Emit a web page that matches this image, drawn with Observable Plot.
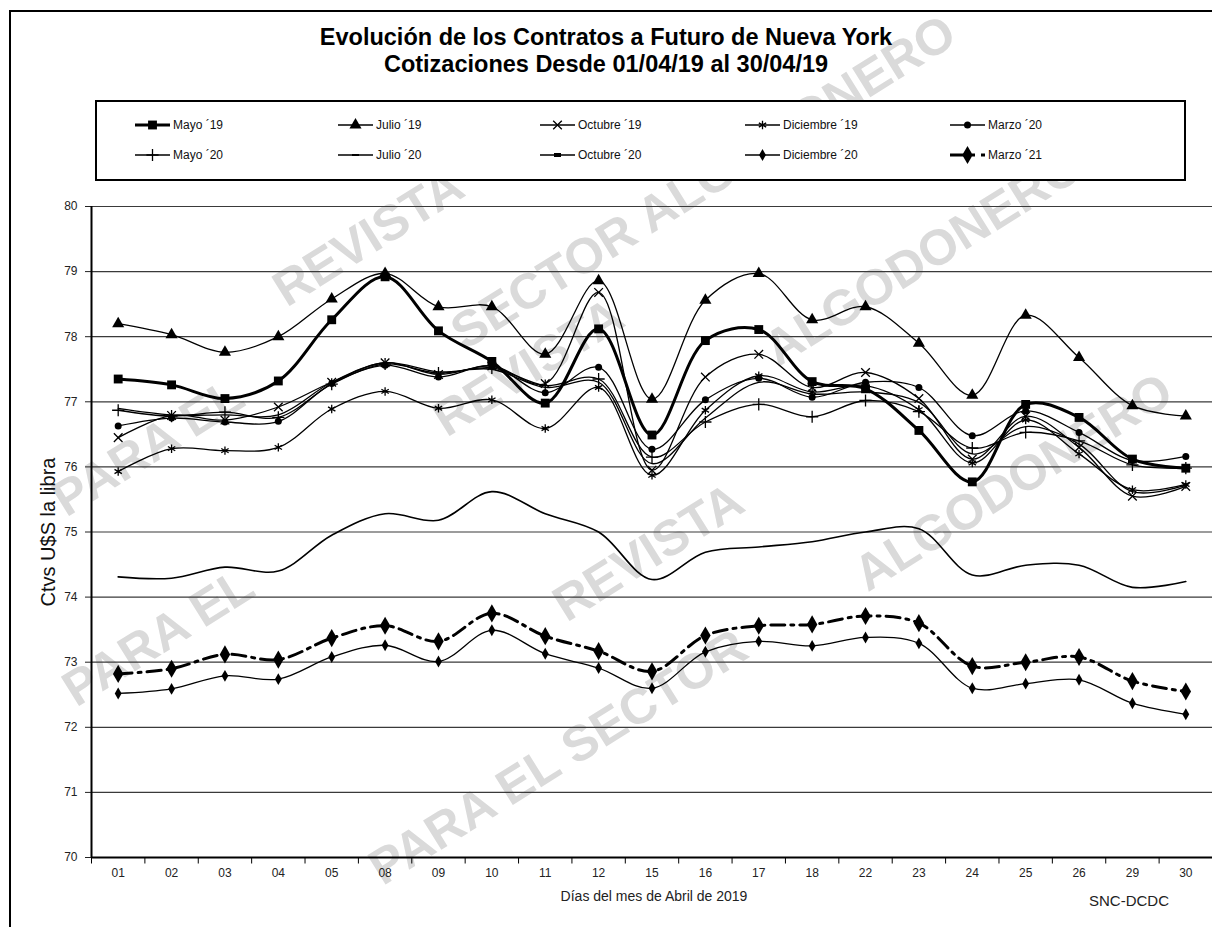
<!DOCTYPE html>
<html>
<head>
<meta charset="utf-8">
<script src="https://cdn.jsdelivr.net/npm/d3@7"></script>
<script src="https://cdn.jsdelivr.net/npm/@observablehq/plot@0.6"></script>
<style>
  body { margin: 0; background: #fff; font-family: "Liberation Sans", Arial, sans-serif; }
  #page { position: relative; width: 1212px; height: 927px; overflow: hidden; background: #fff; }
  #frame { position: absolute; left: 9px; top: 10px; width: 1300px; height: 1000px; border: 2px solid #000; }
  #wm { position: absolute; left: 0; top: 0; }
  #title { position: absolute; top: 24px; left: 0; width: 1212px; text-align: center; font-weight: bold; font-size: 23.5px; line-height: 27px; color: #000; }
  #legend { position: absolute; left: 95px; top: 100px; width: 1091px; height: 81px; box-sizing: border-box; border: 2px solid #000; background: #fff; }
  #legend svg { position: absolute; left: -2px; top: -2px; }
  #chart { position: absolute; left: 0; top: 190px; }
  #ylabel { position: absolute; left: 48px; top: 532px; transform: translate(-50%, -50%) rotate(-90deg); font-size: 20px; white-space: nowrap; color: #111; }
  #xlabel { position: absolute; left: 654px; top: 896px; transform: translate(-50%, -50%); font-size: 14px; white-space: nowrap; color: #222; }
  #source { position: absolute; left: 1129px; top: 900px; transform: translate(-50%, -50%); font-size: 15px; white-space: nowrap; color: #222; }
</style>
</head>
<body>
<div id="page">
  <div id="frame"></div>
  <svg id="wm" width="1212" height="927"></svg>
  <div id="title">Evolución de los Contratos a Futuro de Nueva York<br>Cotizaciones Desde 01/04/19 al 30/04/19</div>
  <div id="legend"></div>
  <div id="chart"></div>
  <div id="ylabel">Ctvs U$S la libra</div>
  <div id="xlabel">Días del mes de Abril de 2019</div>
  <div id="source">SNC-DCDC</div>
</div>
<script>
// ---- Data ----
const dates = ["01","02","03","04","05","08","09","10","11","12","15","16","17","18","22","23","24","25","26","29","30"];
const yTicks = [70,71,72,73,74,75,76,77,78,79,80];
const seriesNames = ["Mayo ´19","Julio ´19","Octubre ´19","Diciembre ´19","Marzo ´20","Mayo ´20","Julio ´20","Octubre ´20","Diciembre ´20","Marzo ´21"];

const mayo19      = [77.35,77.26,77.05,77.32,78.26,78.92,78.09,77.62,76.98,78.12,76.49,77.94,78.11,77.31,77.20,76.56,75.77,76.96,76.76,76.12,75.98];
const julio19     = [78.20,78.03,77.76,78.00,78.58,78.97,78.46,78.46,77.73,78.86,77.04,78.56,78.97,78.26,78.46,77.90,77.10,78.33,77.68,76.94,76.78];
const octubre19   = [76.45,76.79,76.72,76.92,77.30,77.60,77.42,77.55,77.28,78.68,75.95,77.38,77.73,77.22,77.45,77.05,76.12,76.78,76.30,75.55,75.70];
const diciembre19 = [75.93,76.28,76.25,76.30,76.89,77.16,76.90,77.03,76.59,77.22,75.87,76.87,77.40,77.15,77.25,76.88,76.06,76.72,76.20,75.65,75.73];
const marzo20     = [76.63,76.75,76.69,76.70,77.28,77.56,77.38,77.55,77.14,77.53,76.27,77.03,77.36,77.07,77.30,77.22,76.48,76.86,76.53,76.10,76.16];
const mayo20      = [76.87,76.78,76.84,76.76,77.27,77.58,77.44,77.52,77.25,77.35,76.15,76.69,76.96,76.77,77.02,76.85,76.29,76.53,76.40,76.03,75.98];
const julio20     = [76.90,76.80,76.80,76.80,77.30,77.60,77.46,77.50,77.22,77.30,76.05,76.75,77.30,77.12,77.15,76.99,76.20,76.62,76.35,75.62,75.72];
const octubre20   = [74.31,74.29,74.46,74.40,74.95,75.28,75.18,75.62,75.28,75.00,74.27,74.69,74.77,74.85,75.00,75.05,74.34,74.49,74.49,74.15,74.24];
const diciembre20 = [72.52,72.59,72.79,72.74,73.08,73.26,73.01,73.49,73.13,72.91,72.60,73.16,73.32,73.25,73.38,73.29,72.60,72.67,72.73,72.37,72.20];
const marzo21     = [72.82,72.90,73.12,73.04,73.37,73.56,73.32,73.75,73.40,73.17,72.86,73.41,73.56,73.58,73.71,73.60,72.94,73.00,73.08,72.71,72.55];

const seriesValues = [mayo19, julio19, octubre19, diciembre19, marzo20, mayo20, julio20, octubre20, diciembre20, marzo21];

// ---- Styles ----
const styles = [
  {w: 3,   sym: "square",   r: 5,   fill: true},
  {w: 1.3, sym: "triangle", r: 4.5, fill: true},
  {w: 1.3, sym: "times",    r: 4,   fill: false},
  {w: 1.3, sym: "asterisk", r: 4,   fill: false},
  {w: 1.3, sym: "circle",   r: 3.5, fill: true},
  {w: 1.3, sym: "plus",     r: 4,   fill: false},
  {w: 1.3, sym: null, legendDash: 1},
  {w: 1.6, sym: null, legendDash: 2},
  {w: 1.3, sym: "diamond",  r: 3.6, fill: true},
  {w: 3,   sym: "diamond",  r: 5.5, fill: true, dash: "14,6,3,6"}
];

const rows = seriesValues.flatMap((vals, s) => vals.map((v, i) => ({s, i, v})));

const marks = [
  Plot.ruleY(yTicks.slice(1), {stroke: "#3a3a3a", strokeWidth: 1.2})
];
seriesValues.forEach((vals, s) => {
  const st = styles[s];
  const d = rows.filter(r => r.s === s);
  marks.push(Plot.line(d, {x: "i", y: "v", curve: "catmull-rom", stroke: "#000", strokeWidth: st.w, strokeDasharray: st.dash || null}));
});
seriesValues.forEach((vals, s) => {
  const st = styles[s];
  if (!st.sym) return;
  const d = rows.filter(r => r.s === s);
  marks.push(Plot.dot(d, {x: "i", y: "v", symbol: () => st.sym, r: st.r,
    fill: st.fill ? "#000" : "none", stroke: st.fill ? "none" : "#000", strokeWidth: 1.3}));
});
marks.push(Plot.ruleX([-0.5], {y1: 70, y2: 80, stroke: "#000", strokeWidth: 2}));
marks.push(Plot.ruleY([70], {stroke: "#000", strokeWidth: 2}));
marks.push(Plot.ruleX(d3.range(dates.length + 1).map(k => k - 0.5), {y1: 70, y2: 69.9, stroke: "#000", strokeWidth: 1}));

const chart = Plot.plot({
  width: 1212,
  height: 737,
  marginTop: 16,
  marginBottom: 70,
  marginLeft: 91,
  marginRight: 0,
  style: {background: "transparent", fontFamily: "Liberation Sans, Arial, sans-serif", fontSize: "12px", color: "#222"},
  x: {type: "linear", domain: [-0.5, dates.length - 0.5], ticks: d3.range(dates.length), tickFormat: i => dates[i], tickSize: 0, tickPadding: 11, label: null},
  y: {domain: [70, 80], ticks: yTicks, tickSize: 6, tickPadding: 8, label: null},
  marks
});
document.getElementById("chart").appendChild(chart);

// ---- Legend ----
const symMap = {square: d3.symbolSquare, triangle: d3.symbolTriangle, times: d3.symbolTimes, asterisk: d3.symbolAsterisk, circle: d3.symbolCircle, plus: d3.symbolPlus, diamond: d3.symbolDiamond};
const lg = d3.select("#legend").append("svg").attr("width", 1095).attr("height", 85);
const cols = [135, 338, 540, 745, 950];
const rowsY = [125, 155];
seriesNames.forEach((name, k) => {
  const st = styles[k];
  const x0 = cols[k % 5] - 95, y0 = rowsY[Math.floor(k / 5)] - 100;
  lg.append("line").attr("x1", x0).attr("x2", x0 + 35).attr("y1", y0).attr("y2", y0)
    .attr("stroke", "#000").attr("stroke-width", st.w).attr("stroke-dasharray", st.dash ? "16,6,3,6" : null);
  if (st.sym) {
    lg.append("path").attr("transform", `translate(${x0 + 17.5},${y0})`)
      .attr("d", d3.symbol(symMap[st.sym], Math.PI * st.r * st.r)())
      .attr("fill", st.fill ? "#000" : "none").attr("stroke", st.fill ? "none" : "#000").attr("stroke-width", 1.3);
  } else {
    lg.append("rect").attr("x", x0 + 14).attr("y", y0 - st.legendDash).attr("width", 7).attr("height", st.legendDash * 2).attr("fill", "#000");
  }
  lg.append("text").attr("x", x0 + 38).attr("y", y0 + 4).attr("font-size", 12).attr("fill", "#111")
    .attr("font-family", "Liberation Sans, Arial, sans-serif").text(name);
});

// ---- Watermark ----
const wmTexts = [
  ["REVISTA", 370, 240], ["SECTOR ALGODONERO", 705, 185],
  ["PARA EL", 150, 450], ["REVISTA", 530, 370], ["ALGODONERO", 925, 260],
  ["PARA EL", 160, 640], ["REVISTA", 650, 555], ["ALGODONERO", 1015, 485],
  ["PARA EL SECTOR", 560, 760]
];
const wm = d3.select("#wm");
wmTexts.forEach(([t, x, y]) => {
  wm.append("text").attr("transform", `translate(${x},${y}) rotate(-32)`)
    .attr("text-anchor", "middle").attr("dominant-baseline", "middle")
    .attr("font-family", "Liberation Sans, Arial, sans-serif").attr("font-weight", "bold")
    .attr("font-size", 50).attr("fill", "#dadada").text(t);
});
</script>
</body>
</html>
